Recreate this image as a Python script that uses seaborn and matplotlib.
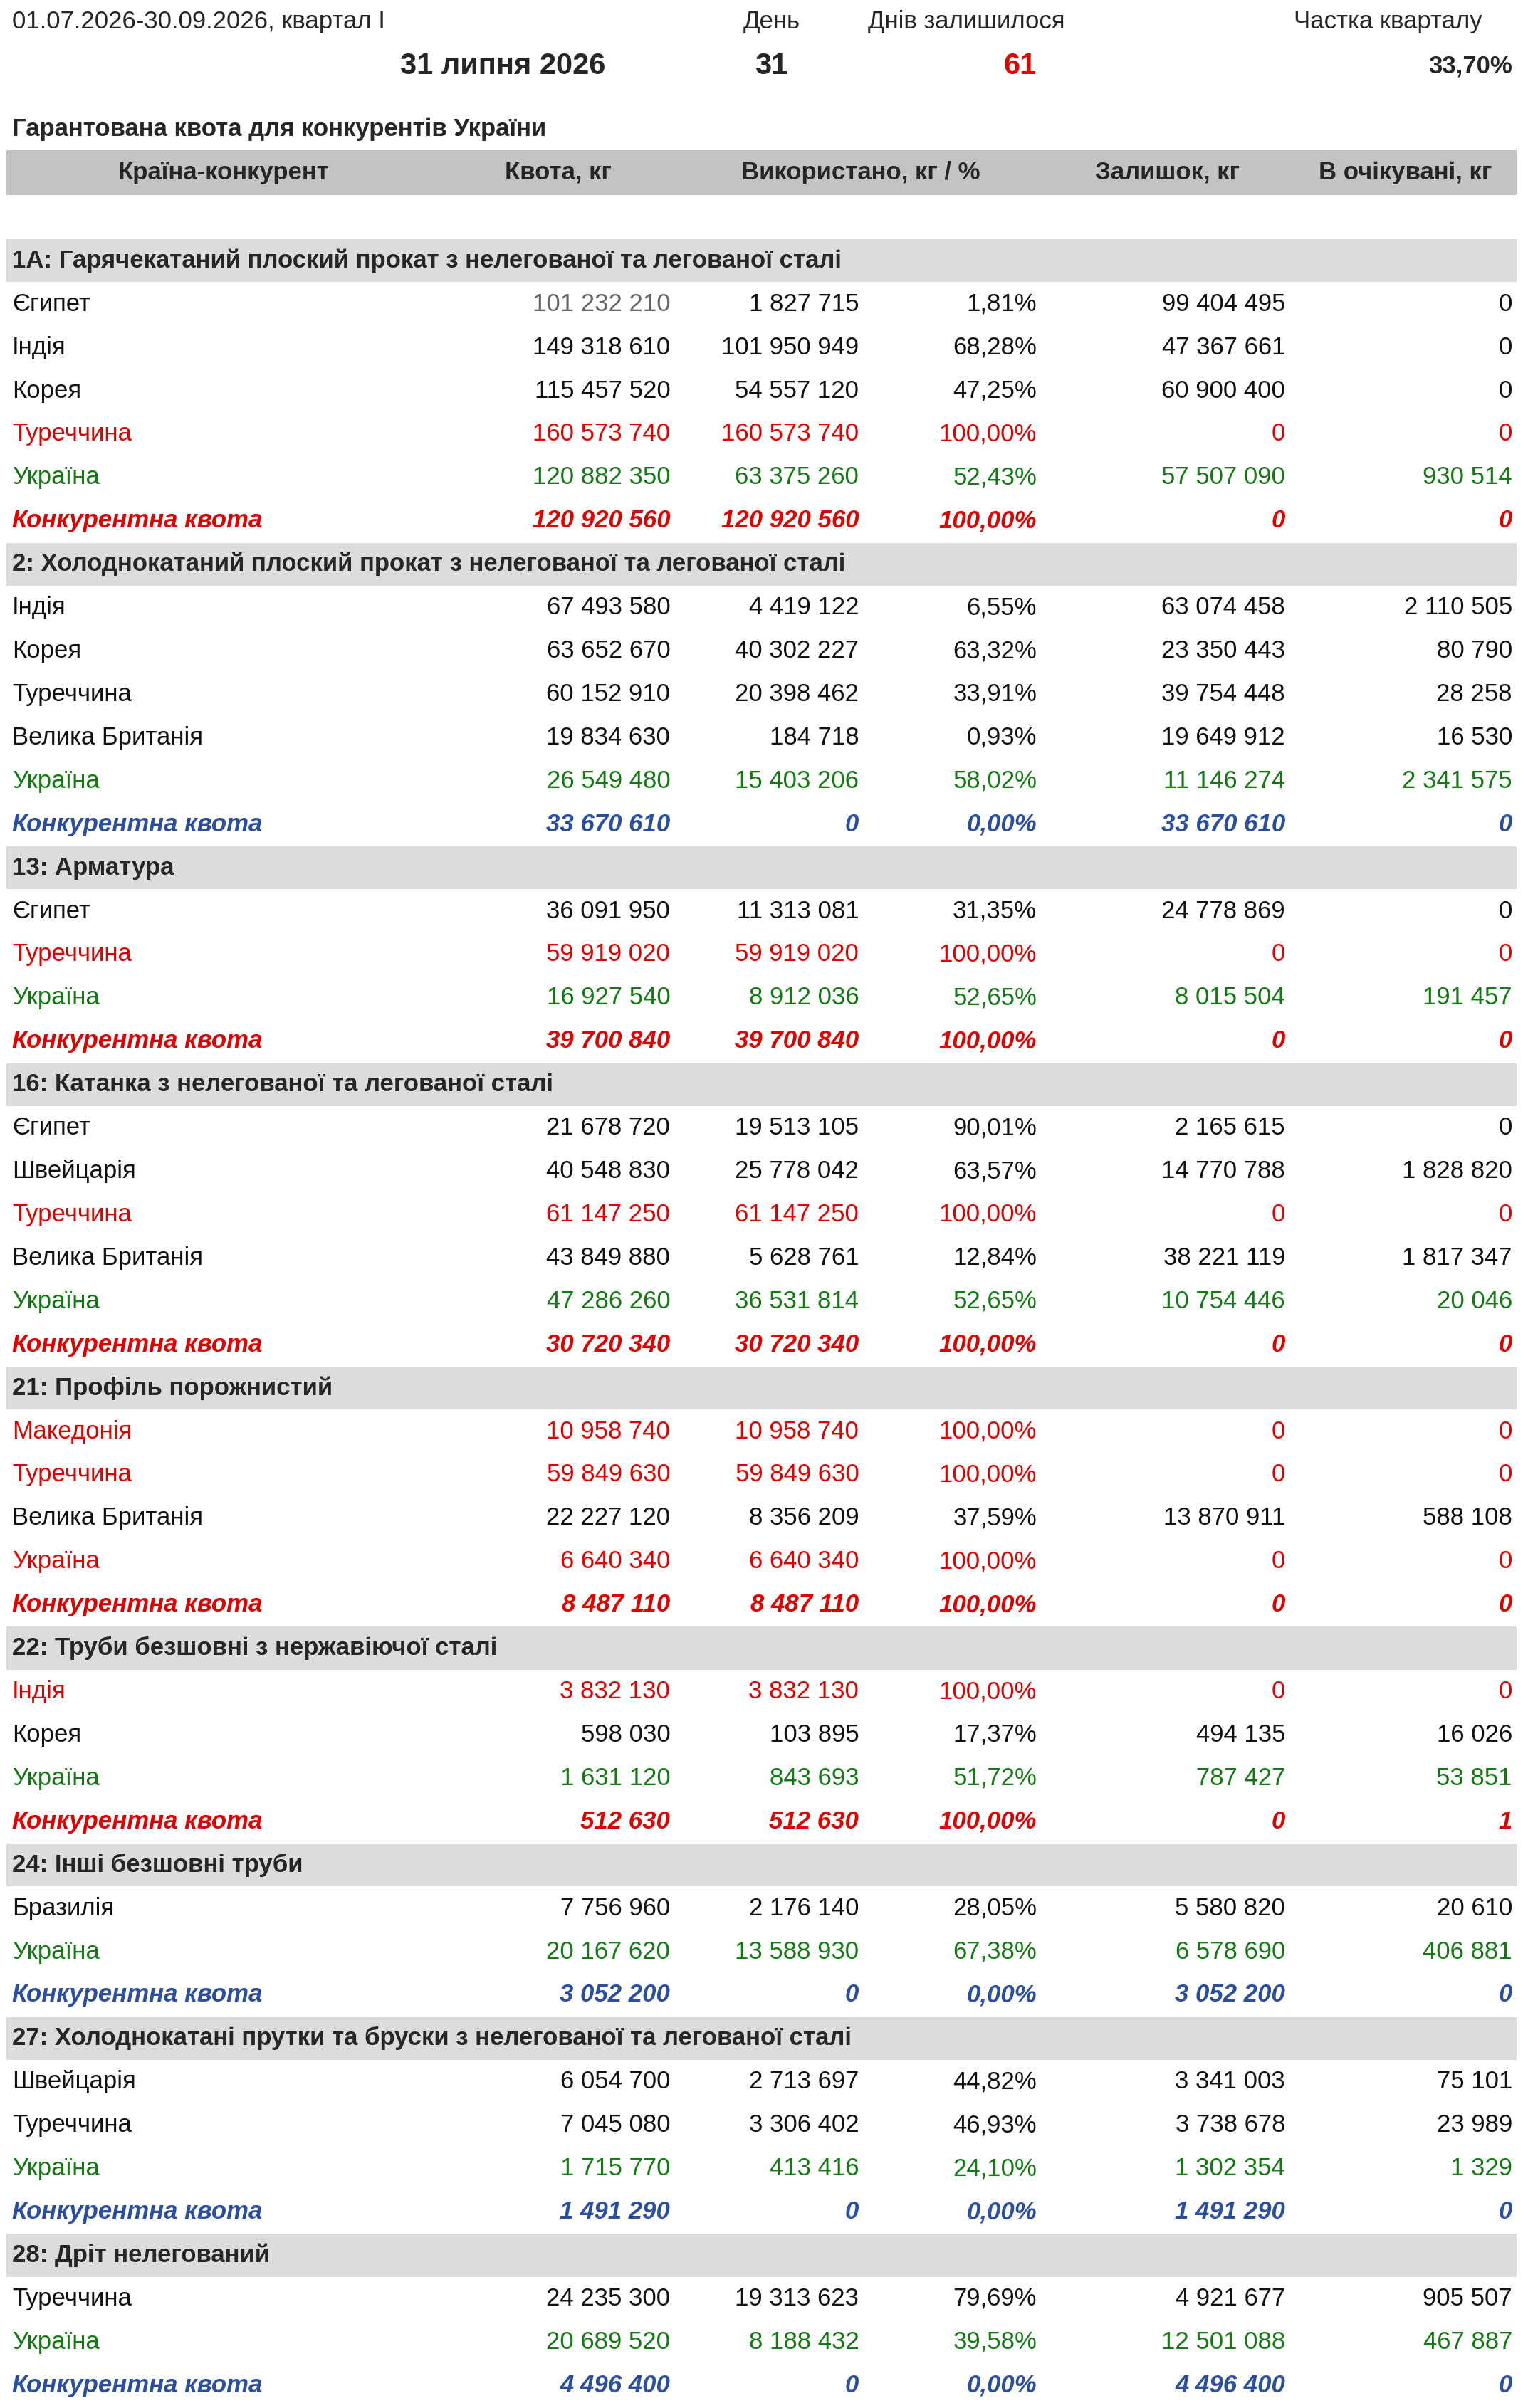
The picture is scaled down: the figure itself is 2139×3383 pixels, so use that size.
import matplotlib
matplotlib.use("Agg")
import matplotlib.pyplot as plt
import seaborn as sns

sns.set_theme(style="white")
plt.rcParams['font.family'] = ['Liberation Sans Narrow', 'Liberation Sans', 'DejaVu Sans']

# ---- data ----
period_label = "01.07.2026-30.09.2026, квартал І"
date_label = "31 липня 2026"
day_no = "31"
days_left = "61"
quarter_share = "33,70%"
table_title = "Гарантована квота для конкурентів України"
col_headers = ["Країна-конкурент", "Квота, кг", "Використано, кг / %", "Залишок, кг", "В очікувані, кг"]

section_titles = [
    "1A: Гарячекатаний плоский прокат з нелегованої та легованої сталі",
    "2: Холоднокатаний плоский прокат з нелегованої та легованої сталі",
    "13: Арматура",
    "16: Катанка з нелегованої та легованої сталі",
    "21: Профіль порожнистий",
    "22: Труби безшовні з нержавіючої сталі",
    "24: Інші безшовні труби",
    "27: Холоднокатані прутки та бруски з нелегованої та легованої сталі",
    "28: Дріт нелегований",
]
# per section: country, quota, used, pct, remaining, pending, style
# style: n=normal, r=red, g=green, R=quota red, B=quota blue
sec_1a = [("Єгипет", 101232210, 1827715, "1,81%", 99404495, 0, "n"),
          ("Індія", 149318610, 101950949, "68,28%", 47367661, 0, "n"),
          ("Корея", 115457520, 54557120, "47,25%", 60900400, 0, "n"),
          ("Туреччина", 160573740, 160573740, "100,00%", 0, 0, "r"),
          ("Україна", 120882350, 63375260, "52,43%", 57507090, 930514, "g"),
          ("Конкурентна квота", 120920560, 120920560, "100,00%", 0, 0, "R")]
sec_2 = [("Індія", 67493580, 4419122, "6,55%", 63074458, 2110505, "n"),
         ("Корея", 63652670, 40302227, "63,32%", 23350443, 80790, "n"),
         ("Туреччина", 60152910, 20398462, "33,91%", 39754448, 28258, "n"),
         ("Велика Британія", 19834630, 184718, "0,93%", 19649912, 16530, "n"),
         ("Україна", 26549480, 15403206, "58,02%", 11146274, 2341575, "g"),
         ("Конкурентна квота", 33670610, 0, "0,00%", 33670610, 0, "B")]
sec_13 = [("Єгипет", 36091950, 11313081, "31,35%", 24778869, 0, "n"),
          ("Туреччина", 59919020, 59919020, "100,00%", 0, 0, "r"),
          ("Україна", 16927540, 8912036, "52,65%", 8015504, 191457, "g"),
          ("Конкурентна квота", 39700840, 39700840, "100,00%", 0, 0, "R")]
sec_16 = [("Єгипет", 21678720, 19513105, "90,01%", 2165615, 0, "n"),
          ("Швейцарія", 40548830, 25778042, "63,57%", 14770788, 1828820, "n"),
          ("Туреччина", 61147250, 61147250, "100,00%", 0, 0, "r"),
          ("Велика Британія", 43849880, 5628761, "12,84%", 38221119, 1817347, "n"),
          ("Україна", 47286260, 36531814, "52,65%", 10754446, 20046, "g"),
          ("Конкурентна квота", 30720340, 30720340, "100,00%", 0, 0, "R")]
sec_21 = [("Македонія", 10958740, 10958740, "100,00%", 0, 0, "r"),
          ("Туреччина", 59849630, 59849630, "100,00%", 0, 0, "r"),
          ("Велика Британія", 22227120, 8356209, "37,59%", 13870911, 588108, "n"),
          ("Україна", 6640340, 6640340, "100,00%", 0, 0, "r"),
          ("Конкурентна квота", 8487110, 8487110, "100,00%", 0, 0, "R")]
sec_22 = [("Індія", 3832130, 3832130, "100,00%", 0, 0, "r"),
          ("Корея", 598030, 103895, "17,37%", 494135, 16026, "n"),
          ("Україна", 1631120, 843693, "51,72%", 787427, 53851, "g"),
          ("Конкурентна квота", 512630, 512630, "100,00%", 0, 1, "R")]
sec_24 = [("Бразилія", 7756960, 2176140, "28,05%", 5580820, 20610, "n"),
          ("Україна", 20167620, 13588930, "67,38%", 6578690, 406881, "g"),
          ("Конкурентна квота", 3052200, 0, "0,00%", 3052200, 0, "B")]
sec_27 = [("Швейцарія", 6054700, 2713697, "44,82%", 3341003, 75101, "n"),
          ("Туреччина", 7045080, 3306402, "46,93%", 3738678, 23989, "n"),
          ("Україна", 1715770, 413416, "24,10%", 1302354, 1329, "g"),
          ("Конкурентна квота", 1491290, 0, "0,00%", 1491290, 0, "B")]
sec_28 = [("Туреччина", 24235300, 19313623, "79,69%", 4921677, 905507, "n"),
          ("Україна", 20689520, 8188432, "39,58%", 12501088, 467887, "g"),
          ("Конкурентна квота", 4496400, 0, "0,00%", 4496400, 0, "B")]
sections = [sec_1a, sec_2, sec_13, sec_16, sec_21, sec_22, sec_24, sec_27, sec_28]

colors = {"n": "#111111", "r": "#e00000", "g": "#137a13", "R": "#e00000", "B": "#2a4fa0"}


def fmt(v):
    return f"{v:,}".replace(",", " ")


W, H = 993, 1570
fig = plt.figure(figsize=(21.39, 33.83), dpi=100)
ax = fig.add_axes([0, 0, 1, 1])
ax.set_xlim(0, W)
ax.set_ylim(H, 0)
ax.axis("off")

fs = 25
# top block
ax.text(8, 14, period_label, fontsize=fs, va="center")
ax.text(503, 14, "День", fontsize=fs, va="center", ha="center")
ax.text(630, 14, "Днів залишилося", fontsize=fs, va="center", ha="center")
ax.text(905, 14, "Частка кварталу", fontsize=fs, va="center", ha="center")
ax.text(328, 43, date_label, fontsize=30, va="center", ha="center", weight="bold")
ax.text(503, 43, day_no, fontsize=30, va="center", ha="center", weight="bold")
ax.text(665, 43, days_left, fontsize=30, va="center", ha="center", weight="bold", color="#e00000")
ax.text(986, 43, quarter_share, fontsize=fs, va="center", ha="right", weight="bold")
ax.text(8, 84, table_title, fontsize=fs, va="center", weight="bold")

ax.add_patch(plt.Rectangle((4, 98), W - 8, 29, color="#c3c3c3", lw=0))
for x, t in zip([146, 364, 561, 761, 916], col_headers):
    ax.text(x, 112.5, t, fontsize=fs, va="center", ha="center", weight="bold")

d = 28.27
y = 170
right_x = [437, 560, 676, 838, 986]
for title, rows in zip(section_titles, sections):
    ax.add_patch(plt.Rectangle((4, y - 14), W - 8, 28, color="#dcdcdc", lw=0))
    ax.text(8, y, title, fontsize=fs, va="center", weight="bold")
    y += d
    for name, q, u, p, rem, pend, st in rows:
        c = colors[st]
        kw = dict(fontsize=fs, va="center", color=c)
        if st in "RB":
            kw.update(weight="bold", style="italic")
        ax.text(8, y, name, **kw)
        vals = [fmt(q), fmt(u), p, fmt(rem), fmt(pend)]
        for i, (x, v) in enumerate(zip(right_x, vals)):
            kw2 = dict(kw)
            if name == "Єгипет" and title.startswith("1A") and i == 0:
                kw2["color"] = "#666666"
            ax.text(x, y, v, ha="right", **kw2)
        y += d

fig.savefig("out.png", dpi=100)
